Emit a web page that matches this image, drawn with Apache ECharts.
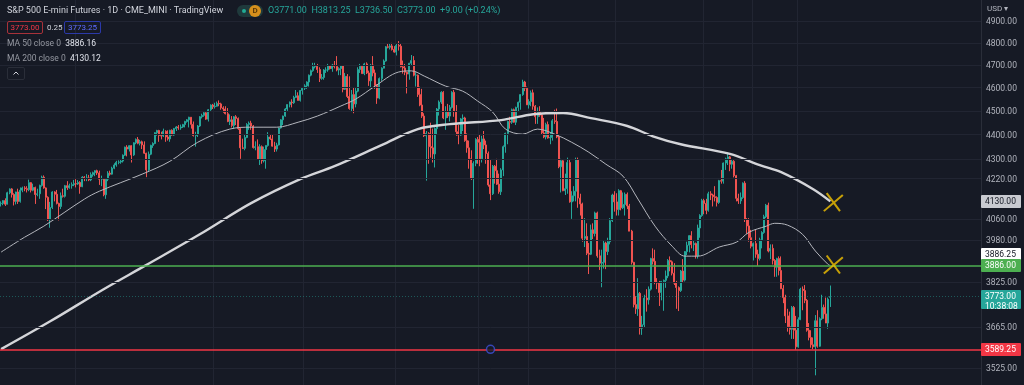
<!DOCTYPE html>
<html><head><meta charset="utf-8">
<script src="https://cdn.jsdelivr.net/npm/echarts@6/dist/echarts.min.js"></script>
<style>
html,body{margin:0;padding:0;background:#161a25;}
#wrap{position:relative;width:1024px;height:385px;overflow:hidden;font-family:Roboto,"Noto Sans",sans-serif;}
#chart{position:absolute;left:0;top:0;width:1024px;height:385px;}
.ov{position:absolute;white-space:nowrap;line-height:1;}
.box{position:absolute;box-sizing:border-box;border:1px solid;border-radius:2px;text-align:center;font-size:8px;line-height:11px;}
.tick{position:absolute;left:986px;font-size:8.5px;line-height:10px;color:#b2b5be;white-space:nowrap;}
.tag{position:absolute;left:981px;width:40px;box-sizing:border-box;padding-left:4px;font-size:8.5px;line-height:9.5px;padding-top:2px;border-radius:1px;white-space:pre;}
</style></head><body>
<div id="wrap">
<div id="chart"></div>
<div class="ov" style="left:7px;top:6px;font-size:9px;color:#d1d4dc;">S&amp;P 500 E-mini Futures · 1D · CME_MINI · TradingView</div>
<div class="ov" style="left:237px;top:5px;width:26px;height:12px;border-radius:6px;background:#1f3a3c;"></div>
<div class="ov" style="left:242px;top:9px;width:4px;height:4px;border-radius:2px;background:#22ab94;"></div>
<div class="ov" style="left:249px;top:5px;width:12px;height:12px;border-radius:6px;background:#d68f1c;color:#5b3a08;font-size:8px;line-height:12px;text-align:center;font-weight:bold;">D</div>
<div class="ov" id="ohlc" style="left:268px;top:6px;font-size:9px;color:#26a69a;"></div>
<div class="box" id="bid" style="left:7px;top:21px;width:36px;height:13px;border-color:#a8323a;color:#f23645;"></div>
<div class="ov" id="spread" style="left:47px;top:24px;font-size:8px;color:#d1d4dc;"></div>
<div class="box" id="ask" style="left:64px;top:21px;width:37px;height:13px;border-color:#2b39a8;color:#5d6bff;"></div>
<div class="ov" id="ma50lbl" style="left:7px;top:39px;font-size:8.5px;color:#9598a1;"></div>
<div class="ov" id="ma200lbl" style="left:7px;top:54px;font-size:8.5px;color:#9598a1;"></div>
<div class="box" style="left:7px;top:67px;width:18px;height:13px;border-color:#2a2e39;"><svg width="16" height="11" viewBox="0 0 16 11" style="display:block"><path d="M5.5,6.5L8,4L10.5,6.5" fill="none" stroke="#d1d4dc" stroke-width="1"/></svg></div>
<div class="ov" style="left:987px;top:5px;font-size:8px;color:#b2b5be;">USD &#9662;</div>
<div id="axisText"></div>
</div>
<script>
// ---- Daily candles: [day, open, high, low, close] ----
const m2021_04=[[12,4122,4130,4110,4122],[13,4122,4135,4115,4133],[14,4133,4142,4112,4119],[15,4119,4168,4118,4164],[16,4164,4181,4158,4179],[19,4179,4182,4145,4157],[20,4157,4162,4114,4130],[21,4130,4168,4118,4167],[22,4167,4180,4120,4130],[23,4130,4185,4125,4174],[26,4174,4188,4166,4183],[27,4183,4190,4170,4180],[28,4180,4190,4165,4176],[29,4176,4216,4170,4204],[30,4204,4206,4165,4174]];
const m2021_05=[[3,4174,4200,4170,4185],[4,4185,4188,4120,4157],[5,4157,4180,4150,4160],[6,4160,4196,4140,4193],[7,4193,4232,4188,4226],[10,4226,4233,4180,4183],[11,4183,4185,4100,4146],[12,4146,4150,4054,4058],[13,4058,4128,4028,4106],[14,4106,4170,4100,4167],[17,4167,4170,4130,4158],[18,4158,4175,4118,4122],[19,4122,4125,4056,4110],[20,4110,4165,4100,4152],[21,4152,4180,4145,4150],[24,4150,4195,4145,4192],[25,4192,4210,4175,4184],[26,4184,4200,4180,4192],[27,4192,4205,4180,4196],[28,4196,4215,4190,4200]];
const m2021_06=[[1,4200,4218,4185,4199],[2,4199,4214,4195,4205],[3,4205,4210,4160,4188],[4,4188,4230,4186,4226],[7,4226,4230,4210,4222],[8,4222,4238,4210,4223],[9,4223,4235,4210,4215],[10,4215,4245,4210,4236],[11,4236,4248,4228,4244],[14,4244,4254,4230,4252],[15,4252,4256,4235,4243],[16,4243,4252,4195,4218],[17,4218,4232,4190,4218],[18,4218,4222,4150,4156],[21,4156,4222,4140,4218],[22,4218,4250,4210,4242],[23,4242,4252,4232,4238],[24,4238,4268,4236,4262],[25,4262,4282,4258,4275],[28,4275,4292,4268,4286],[29,4286,4294,4278,4287],[30,4287,4298,4280,4291]];
const m2021_07=[[1,4291,4318,4285,4315],[2,4315,4350,4312,4348],[6,4348,4356,4310,4340],[7,4340,4356,4330,4354],[8,4354,4356,4285,4316],[9,4316,4368,4312,4366],[12,4366,4384,4360,4380],[13,4380,4390,4360,4364],[14,4364,4378,4355,4370],[15,4370,4375,4340,4357],[16,4357,4372,4320,4323],[19,4323,4325,4226,4255],[20,4255,4330,4250,4319],[21,4319,4358,4315,4355],[22,4355,4368,4345,4363],[23,4363,4410,4360,4408],[26,4408,4420,4395,4417],[27,4417,4420,4370,4396],[28,4396,4412,4380,4394],[29,4394,4425,4390,4414],[30,4414,4418,4370,4390]];
const m2021_08=[[2,4390,4418,4375,4382],[3,4382,4420,4370,4418],[4,4418,4422,4395,4398],[5,4398,4428,4395,4425],[6,4425,4436,4415,4432],[9,4432,4440,4420,4428],[10,4428,4442,4420,4432],[11,4432,4445,4428,4442],[12,4442,4458,4430,4455],[13,4455,4465,4450,4462],[16,4462,4475,4430,4473],[17,4473,4474,4425,4443],[18,4443,4455,4392,4396],[19,4396,4412,4350,4400],[20,4400,4440,4390,4436],[23,4436,4478,4432,4475],[24,4475,4488,4468,4481],[25,4481,4495,4475,4492],[26,4492,4495,4462,4465],[27,4465,4508,4455,4505],[30,4505,4528,4500,4525],[31,4525,4530,4508,4518]];
const m2021_09=[[1,4518,4535,4510,4520],[2,4520,4540,4518,4532],[3,4532,4545,4520,4530],[7,4530,4535,4505,4513],[8,4513,4520,4492,4508],[9,4508,4520,4485,4488],[10,4488,4512,4452,4455],[13,4455,4485,4440,4462],[14,4462,4478,4430,4438],[15,4438,4478,4425,4475],[16,4475,4482,4440,4468],[17,4468,4472,4420,4425],[20,4425,4430,4300,4345],[21,4345,4383,4340,4343],[22,4343,4400,4335,4388],[23,4388,4448,4385,4442],[24,4442,4455,4420,4448],[27,4448,4458,4420,4436],[28,4436,4440,4342,4346],[29,4346,4372,4335,4350],[30,4350,4380,4296,4298]];
const m2021_10=[[1,4298,4360,4275,4350],[4,4350,4355,4280,4292],[5,4292,4350,4285,4338],[6,4338,4355,4260,4355],[7,4355,4410,4350,4390],[8,4390,4402,4378,4382],[11,4382,4400,4350,4352],[12,4352,4370,4328,4340],[13,4340,4366,4330,4357],[14,4357,4430,4355,4428],[15,4428,4465,4425,4462],[18,4462,4480,4440,4478],[19,4478,4512,4475,4508],[20,4508,4528,4500,4527],[21,4527,4540,4515,4538],[22,4538,4550,4515,4535],[25,4535,4565,4530,4558],[26,4558,4590,4555,4565],[27,4565,4580,4545,4545],[28,4545,4590,4540,4588],[29,4588,4600,4570,4598]];
const m2021_11=[[1,4598,4615,4590,4608],[2,4608,4628,4595,4625],[3,4625,4658,4605,4655],[4,4655,4680,4650,4675],[5,4675,4710,4670,4692],[8,4692,4710,4685,4695],[9,4695,4705,4665,4680],[10,4680,4690,4625,4641],[11,4641,4660,4635,4645],[12,4645,4682,4635,4678],[15,4678,4690,4665,4678],[16,4678,4705,4670,4696],[17,4696,4700,4680,4684],[18,4684,4705,4670,4700],[19,4700,4718,4685,4694],[22,4694,4740,4672,4678],[23,4678,4690,4655,4684],[24,4684,4700,4655,4697],[26,4697,4700,4580,4593],[29,4593,4665,4590,4650],[30,4650,4660,4555,4562]];
const m2021_12=[[1,4562,4650,4505,4510],[2,4510,4590,4495,4570],[3,4570,4600,4490,4530],[6,4530,4600,4515,4585],[7,4585,4690,4580,4680],[8,4680,4705,4665,4695],[9,4695,4700,4660,4662],[10,4662,4710,4655,4705],[13,4705,4712,4660,4665],[14,4665,4675,4608,4630],[15,4630,4705,4598,4700],[16,4700,4740,4650,4665],[17,4665,4680,4595,4610],[20,4610,4615,4530,4555],[21,4555,4645,4550,4640],[22,4640,4690,4630,4686],[23,4686,4725,4685,4718],[27,4718,4785,4715,4782],[28,4782,4795,4775,4780],[29,4780,4796,4770,4786],[30,4786,4800,4765,4770],[31,4770,4785,4755,4758]];
const m2022_01=[[3,4758,4795,4743,4788],[4,4788,4808,4765,4785],[5,4785,4798,4690,4692],[6,4692,4720,4662,4687],[7,4687,4705,4655,4668],[10,4668,4670,4575,4660],[11,4660,4710,4635,4708],[12,4708,4745,4700,4720],[13,4720,4740,4650,4655],[14,4655,4668,4605,4655],[18,4655,4658,4560,4570],[19,4570,4605,4520,4525],[20,4525,4595,4470,4478],[21,4478,4490,4390,4395],[24,4395,4415,4212,4405],[25,4405,4410,4280,4350],[26,4350,4450,4305,4345],[27,4345,4425,4285,4320],[28,4320,4430,4265,4425],[31,4425,4512,4400,4508]];
const m2022_02=[[1,4508,4545,4480,4538],[2,4538,4585,4530,4580],[3,4580,4585,4465,4470],[4,4470,4520,4420,4495],[7,4495,4530,4470,4478],[8,4478,4525,4455,4515],[9,4515,4585,4510,4580],[10,4580,4590,4475,4498],[11,4498,4525,4395,4412],[14,4412,4440,4360,4398],[15,4398,4470,4395,4466],[16,4466,4485,4415,4470],[17,4470,4475,4370,4375],[18,4375,4405,4325,4345],[22,4345,4375,4260,4300],[23,4300,4335,4215,4220],[24,4220,4290,4101,4282],[25,4282,4385,4270,4380],[28,4380,4390,4280,4368]];
const m2022_03=[[1,4368,4400,4270,4300],[2,4300,4395,4285,4382],[3,4382,4415,4340,4357],[4,4357,4375,4280,4322],[7,4322,4330,4188,4195],[8,4195,4295,4135,4160],[9,4160,4275,4155,4270],[10,4270,4275,4200,4252],[11,4252,4300,4195,4198],[14,4198,4240,4160,4168],[15,4168,4262,4155,4255],[16,4255,4355,4230,4350],[17,4350,4408,4325,4405],[18,4405,4458,4360,4455],[21,4455,4475,4425,4452],[22,4452,4510,4445,4505],[23,4505,4510,4450,4452],[24,4452,4518,4440,4515],[25,4515,4540,4495,4537],[28,4537,4572,4505,4570],[29,4570,4635,4565,4625],[30,4625,4630,4585,4598],[31,4598,4605,4525,4526]];
const m2022_04=[[1,4526,4550,4510,4540],[4,4540,4588,4520,4578],[5,4578,4592,4505,4520],[6,4520,4525,4445,4475],[7,4475,4515,4445,4495],[8,4495,4520,4475,4482],[11,4482,4485,4400,4407],[12,4407,4470,4385,4390],[13,4390,4450,4380,4442],[14,4442,4455,4383,4386],[18,4386,4410,4360,4388],[19,4388,4465,4375,4458],[20,4458,4505,4445,4455],[21,4455,4510,4385,4390],[22,4390,4400,4262,4268],[25,4268,4300,4165,4292],[26,4292,4295,4170,4172],[27,4172,4240,4155,4180],[28,4180,4305,4160,4285],[29,4285,4295,4125,4128]];
const m2022_05=[[2,4128,4170,4062,4152],[3,4152,4190,4130,4170],[4,4170,4305,4130,4297],[5,4297,4305,4105,4143],[6,4143,4160,4075,4120],[9,4120,4125,3975,3988],[10,3988,4065,3955,3995],[11,3995,4045,3925,3932],[12,3932,3970,3855,3928],[13,3928,4040,3925,4020],[16,4020,4045,3985,4006],[17,4006,4090,3995,4085],[18,4085,4090,3915,3922],[19,3922,3945,3870,3895],[20,3895,3945,3807,3898],[23,3898,3980,3875,3970],[24,3970,3975,3873,3938],[25,3938,3990,3925,3975],[26,3975,4065,3965,4055],[27,4055,4160,4050,4155],[31,4155,4170,4090,4128]];
const m2022_06=[[1,4128,4162,4075,4098],[2,4098,4178,4075,4172],[3,4172,4175,4095,4105],[6,4105,4165,4100,4118],[7,4118,4165,4075,4158],[8,4158,4165,4100,4112],[9,4112,4120,4015,4015],[10,4015,4020,3890,3898],[13,3898,3900,3735,3745],[14,3745,3775,3712,3730],[15,3730,3840,3705,3785],[16,3785,3790,3640,3662],[17,3662,3705,3639,3674],[21,3674,3780,3665,3768],[22,3768,3800,3720,3762],[23,3762,3810,3745,3800],[24,3800,3915,3795,3912],[27,3912,3950,3890,3902],[28,3902,3945,3818,3825],[29,3825,3840,3800,3822],[30,3822,3830,3740,3788]];
const m2022_07=[[1,3788,3830,3760,3828],[5,3828,3835,3723,3832],[6,3832,3868,3805,3848],[7,3848,3910,3840,3905],[8,3905,3920,3865,3900],[11,3900,3905,3850,3858],[12,3858,3895,3815,3822],[13,3822,3830,3730,3806],[14,3806,3810,3722,3795],[15,3795,3870,3790,3866],[18,3866,3910,3825,3833],[19,3833,3940,3828,3938],[20,3938,3975,3925,3962],[21,3962,4000,3935,3998],[22,3998,4015,3950,3964],[25,3964,3980,3940,3968],[26,3968,3972,3912,3922],[27,3922,4040,3912,4027],[28,4027,4080,3990,4075],[29,4075,4140,4070,4133]];
const m2022_08=[[1,4133,4140,4080,4122],[2,4122,4140,4080,4095],[3,4095,4168,4090,4160],[4,4160,4170,4135,4155],[5,4155,4160,4110,4148],[8,4148,4190,4130,4145],[9,4145,4150,4110,4126],[10,4126,4215,4120,4212],[11,4212,4255,4200,4210],[12,4210,4285,4200,4283],[15,4283,4305,4255,4300],[16,4300,4327,4275,4308],[17,4308,4312,4250,4278],[18,4278,4298,4260,4290],[19,4290,4295,4225,4232],[22,4232,4235,4130,4142],[23,4142,4160,4120,4132],[24,4132,4165,4120,4145],[25,4145,4205,4140,4202],[26,4202,4210,4050,4060],[29,4060,4065,4005,4035],[30,4035,4065,3975,3990],[31,3990,4020,3950,3958]];
const m2022_09=[[1,3958,3972,3905,3968],[2,3968,4020,3915,3928],[6,3928,3945,3885,3912],[7,3912,3990,3905,3982],[8,3982,4015,3950,4010],[9,4010,4078,4005,4070],[12,4070,4120,4065,4115],[13,4115,4125,3935,3940],[14,3940,3965,3910,3950],[15,3950,3965,3890,3905],[16,3905,3910,3845,3880],[19,3880,3915,3845,3912],[20,3912,3920,3850,3868],[21,3868,3920,3800,3802],[22,3802,3815,3750,3770],[23,3770,3780,3680,3705],[26,3705,3730,3650,3667],[27,3667,3720,3640,3658],[28,3658,3740,3625,3735],[29,3735,3740,3625,3655],[30,3655,3705,3588,3598]];
const m2022_10=[[3,3598,3700,3595,3692],[4,3692,3805,3690,3800],[5,3800,3810,3725,3795],[6,3795,3815,3750,3760],[7,3760,3765,3650,3655],[10,3655,3680,3620,3630],[11,3630,3655,3595,3605],[12,3605,3630,3590,3598],[13,3598,3708,3502,3688],[14,3688,3725,3595,3600],[17,3600,3700,3598,3695],[18,3695,3780,3690,3735],[19,3735,3745,3695,3712],[20,3712,3770,3685,3680],[21,3680,3770,3660,3764],[24,3771,3813.25,3736.5,3773]];
const monthBlocks=[['2021-04',m2021_04],['2021-05',m2021_05],['2021-06',m2021_06],['2021-07',m2021_07],['2021-08',m2021_08],['2021-09',m2021_09],['2021-10',m2021_10],['2021-11',m2021_11],['2021-12',m2021_12],['2022-01',m2022_01],['2022-02',m2022_02],['2022-03',m2022_03],['2022-04',m2022_04],['2022-05',m2022_05],['2022-06',m2022_06],['2022-07',m2022_07],['2022-08',m2022_08],['2022-09',m2022_09],['2022-10',m2022_10]];

// ---- Moving averages: [date, value] ----
const ma50=[['2021-04-12',3936],['2021-04-27',3992],['2021-05-10',4034],['2021-06-07',4139],['2021-06-16',4170],['2021-07-15',4238],['2021-08-03',4290],['2021-08-20',4368],['2021-09-13',4423],['2021-09-27',4431],['2021-10-13',4431],['2021-10-27',4452],['2021-11-09',4478],['2021-11-24',4521],['2021-12-06',4551],['2021-12-17',4607],['2022-01-04',4669],['2022-01-12',4674],['2022-01-21',4651],['2022-02-04',4607],['2022-02-16',4585],['2022-02-28',4542],['2022-03-09',4495],['2022-03-17',4423],['2022-03-29',4402],['2022-04-07',4423],['2022-04-20',4402],['2022-05-02',4368],['2022-05-12',4327],['2022-05-24',4278],['2022-06-06',4230],['2022-06-15',4139],['2022-06-28',4034],['2022-07-11',3958],['2022-07-19',3921],['2022-07-27',3921],['2022-08-10',3955],['2022-08-22',3973],['2022-08-30',4011],['2022-09-12',4034],['2022-09-16',4045],['2022-09-26',4038],['2022-10-05',4003],['2022-10-13',3940],['2022-10-21',3890],['2022-10-24',3886.16]];
const ma200=[['2021-04-12',3590],['2021-05-13',3686],['2021-06-18',3800],['2021-07-16',3884],['2021-08-23',4003],['2021-09-27',4123],['2021-10-28',4218],['2021-11-19',4270],['2021-12-22',4356],['2022-01-18',4423],['2022-02-08',4444],['2022-03-15',4461],['2022-04-05',4486],['2022-04-26',4491],['2022-05-13',4469],['2022-06-08',4436],['2022-06-27',4393],['2022-07-15',4360],['2022-08-17',4320],['2022-09-07',4274],['2022-09-21',4246],['2022-10-12',4178],['2022-10-24',4130.12]];

// ---- Axis / annotation values ----
const priceTicks=[4900,4800,4700,4600,4500,4400,4300,4220,4060,3980,3825,3665,3525];
const greenLevel=3886, redLevel=3589.25, lastPrice=3773;
const redAnchor=['2022-03-08',3589.25];
const crossMarks=[['2022-10-24',4127],['2022-10-24',3890]];
const tagValues=[4130,3886.25,3886,3773,3589.25];
const tagTexts=['4130.00','3886.25','3886.00','3773.00\n10:38:08','3589.25'];
const vGridDates=['2021-06-01','2021-09-01','2021-11-01','2022-01-03','2022-03-01','2022-04-01','2022-06-01','2022-08-01','2022-09-01','2022-10-03'];
const header={o:'3771.00',h:'3813.25',l:'3736.50',c:'3773.00',chg:'+9.00 (+0.24%)',bid:'3773.00',spread:'0.25',ask:'3773.25',ma50:'3886.16',ma200:'4130.12'};

// ---- build ----
const categories=[], ohlc=[];
monthBlocks.forEach(([ym,rows])=>rows.forEach(r=>{categories.push(ym+'-'+String(r[0]).padStart(2,'0'));ohlc.push([r[1],r[4],r[3],r[2]]);}));
const emptySlots=70; // blank space right of the last bar
for(let k=1;k<=emptySlots;k++) categories.push('slot'+k);

document.getElementById('ohlc').innerHTML='O'+header.o+' &nbsp;H'+header.h+' &nbsp;L'+header.l+' &nbsp;C'+header.c+' &nbsp;'+header.chg;
document.getElementById('bid').textContent=header.bid;
document.getElementById('spread').textContent=header.spread;
document.getElementById('ask').textContent=header.ask;
document.getElementById('ma50lbl').innerHTML='MA 50 close 0 &nbsp;<span style="color:#e0e3eb">'+header.ma50+'</span>';
document.getElementById('ma200lbl').innerHTML='MA 200 close 0 &nbsp;<span style="color:#e0e3eb">'+header.ma200+'</span>';

const UP='#26a69a', DOWN='#ef5350';
const chart=echarts.init(document.getElementById('chart'),null,{renderer:'canvas'});
chart.setOption({
  backgroundColor:'#161a25',
  animation:false,
  grid:{left:0,right:43,top:0,bottom:0},
  xAxis:{type:'category',data:categories,boundaryGap:true,
    axisLine:{show:false},axisTick:{show:false},axisLabel:{show:false},
    splitLine:{show:true,interval:(i,v)=>vGridDates.includes(v),lineStyle:{color:'#212532',width:1}}},
  yAxis:{type:'log',logBase:10,min:3470,max:4999,position:'right',
    axisLine:{show:true,lineStyle:{color:'#2a2e39'}},axisTick:{show:false},axisLabel:{show:false},splitLine:{show:false}},
  series:[
    {type:'line',data:[],z:1,silent:true,
      markLine:{silent:true,symbol:'none',animation:false,label:{show:false},
        lineStyle:{color:'#212532',width:1,type:'solid'},
        data:priceTicks.map(v=>({yAxis:v}))}},
    {type:'candlestick',data:ohlc,z:2,barWidth:1.5,
      itemStyle:{color:UP,color0:DOWN,borderColor:UP,borderColor0:DOWN,borderWidth:1}},
    {type:'line',data:ma50,z:3,smooth:0.35,showSymbol:false,lineStyle:{color:'#b4b6bd',width:1}},
    {type:'line',data:ma200,z:3,smooth:0.35,showSymbol:false,lineStyle:{color:'#d4d5d9',width:2.4}},
    {type:'line',data:[],z:4,silent:true,
      markLine:{silent:true,symbol:'none',animation:false,label:{show:false},
        lineStyle:{color:'#4caf50',width:1.6,type:'solid'},data:[{yAxis:greenLevel}]}},
    {type:'line',data:[],z:4,silent:true,
      markLine:{silent:true,symbol:'none',animation:false,label:{show:false},
        lineStyle:{color:'#f23645',width:1.6,type:'solid'},data:[{yAxis:redLevel}]}},
    {type:'line',data:[],z:4,silent:true,
      markLine:{silent:true,symbol:'none',animation:false,label:{show:false},
        lineStyle:{color:'#26a69a',width:1,type:[1,2],opacity:0.45},data:[{yAxis:lastPrice}]}},
    {type:'scatter',data:[redAnchor],z:5,symbol:'circle',symbolSize:8,
      itemStyle:{color:'#161a25',borderColor:'#3f51d8',borderWidth:1.5}},
    {type:'scatter',data:crossMarks,z:6,symbol:'path://M0,20L20,2M3,0L17,20',symbolSize:[19,18],symbolOffset:[3,0],
      itemStyle:{color:'transparent',borderColor:'#f2c200',borderWidth:2}}
  ]
});

// axis labels and price tags as HTML text, placed through the axis scale
const tagStyle=[
  {bg:'#c8cad0',fg:'#131722',dy:0},
  {bg:'#ffffff',fg:'#131722',dy:-11},
  {bg:'#4caf50',fg:'#ffffff',dy:0},
  {bg:'#26a69a',fg:'#ffffff',dy:0,h:19},
  {bg:'#f23645',fg:'#ffffff',dy:0}
];
const host=document.getElementById('axisText');
priceTicks.forEach(v=>{
  const py=chart.convertToPixel({yAxisIndex:0},v);
  const d=document.createElement('div');d.className='tick';d.style.top=(py-5)+'px';d.textContent=v.toFixed(2);host.appendChild(d);
});
tagValues.forEach((v,i)=>{
  const s=tagStyle[i];
  const py=chart.convertToPixel({yAxisIndex:0},v)+s.dy;
  const d=document.createElement('div');d.className='tag';
  d.style.top=(py-6.5)+'px';d.style.height=(s.h||13)+'px';d.style.background=s.bg;d.style.color=s.fg;
  d.textContent=tagTexts[i];host.appendChild(d);
});
</script>
</body></html>
